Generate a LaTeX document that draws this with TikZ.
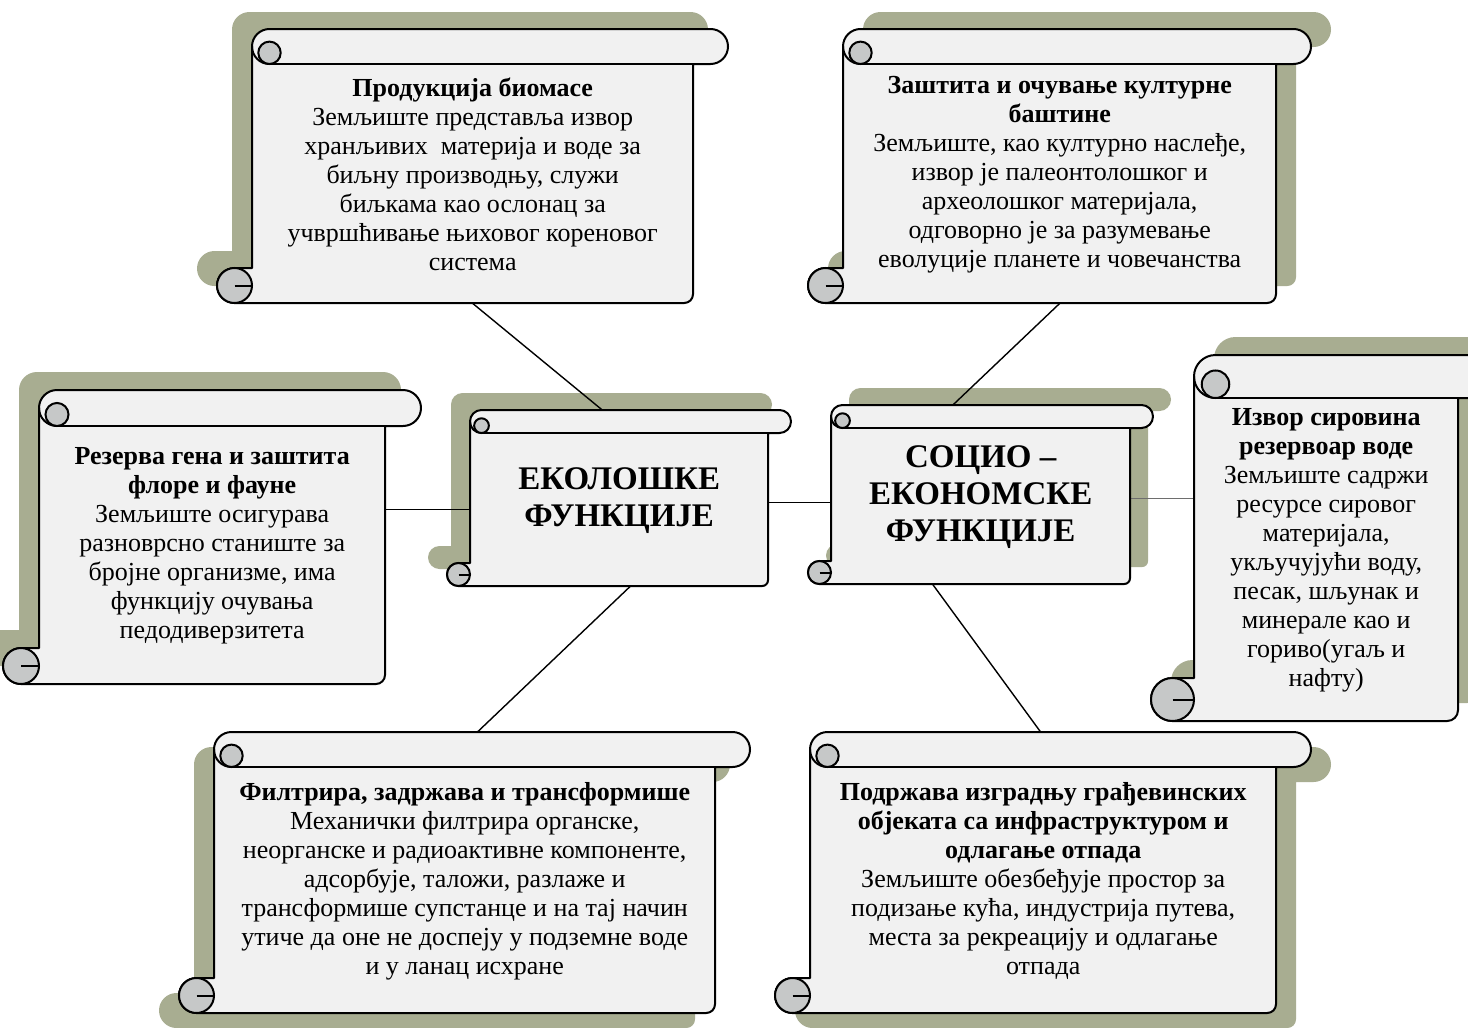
\documentclass[tikz,border=0pt]{standalone}
\usepackage{fontspec}
\setmainfont{Liberation Serif}

\definecolor{scrollfill}{HTML}{F1F1F1}
\definecolor{scrollshadow}{HTML}{A8AD91}
\definecolor{curlfill}{HTML}{C6C8C8}
\definecolor{linkgray}{HTML}{6E6E6E}

\pgfdeclarelayer{shadowlayer}
\pgfdeclarelayer{linelayer}
\pgfsetlayers{shadowlayer,linelayer,main}

% scroll: name, left, top, right, bottom, roll size, shadow dx, shadow dy, text
\newcommand{\drawscroll}[9]{%
  \pgfmathsetmacro{\sxa}{#2+0.5*#6}%
  \pgfmathsetmacro{\sxb}{#2+#6}%
  \pgfmathsetmacro{\sxc}{#2+1.5*#6}%
  \pgfmathsetmacro{\sxe}{#4-#6}%
  \pgfmathsetmacro{\sxf}{#4-0.5*#6}%
  \pgfmathsetmacro{\sya}{#3+0.5*#6}%
  \pgfmathsetmacro{\syb}{#3+0.68*#6}%
  \pgfmathsetmacro{\syc}{#3+#6}%
  \pgfmathsetmacro{\syd}{#5-#6}%
  \pgfmathsetmacro{\sye}{#5-0.5*#6}%
  \pgfmathsetmacro{\syf}{#5-0.25*#6}%
  \pgfmathsetmacro{\shr}{0.5*#6}%
  \pgfmathsetmacro{\sqr}{0.25*#6}%
  \pgfmathsetmacro{\scr}{0.32*#6}%
  \pgfmathsetmacro{\sbw}{#4-#2-2*#6}%
  \pgfmathsetmacro{\sbh}{#5-#3-#6}%
  \def\scrollpath{(\sxc,#3) -- (\sxf,#3) arc[start angle=-90,end angle=90,radius=\shr]
    -- (\sxe,\syc) -- (\sxe,\syf) arc[start angle=0,end angle=90,radius=\sqr]
    -- (\sxa,#5) arc[start angle=90,end angle=270,radius=\shr]
    -- (\sxb,\syd) -- (\sxb,\sya) arc[start angle=180,end angle=270,radius=\shr] -- cycle}%
  \begin{pgfonlayer}{shadowlayer}
    \fill[scrollshadow,shift={(#7,#8)}] \scrollpath;
  \end{pgfonlayer}
  \draw[scrollbody] \scrollpath;
  \draw[scrollline] (\sxc,\syc) -- (\sxe,\syc);
  \draw[scrollline] (\sxb,\sya) arc[start angle=180,end angle=90,radius=\shr];
  \draw[scrollline,fill=curlfill] (\sxc,\syb) circle[radius=\scr];
  \draw[scrollline,fill=curlfill] (\sxa,\sye) circle[radius=\shr];
  \draw[scrollline] (\sxa,\sye) -- (\sxb,\sye);
  \node[inner sep=0pt,minimum width=\sbw pt,minimum height=\sbh pt,anchor=north west] (#1) at (\sxb,\syc) {};
  \node[scrolltext] (#1-text) at ([yshift=9pt]#1.center) {#9};
}

\begin{document}
\begin{tikzpicture}[x=1pt,y=-1pt,
    scrollbody/.style={draw=black,line width=2pt,fill=scrollfill,line join=round},
    scrollline/.style={draw=black,line width=2pt},
    scrolltext/.style={align=center,inner sep=0pt,font=\fontsize{26}{29}\selectfont},
    link/.style={line width=1.4pt}]
  \useasboundingbox (0,0) rectangle (1468,1028);
  \begin{pgfonlayer}{shadowlayer}
    \fill[white] (0,0) rectangle (1468,1028);
  \end{pgfonlayer}

  % upper row
  \drawscroll{prod}{217}{29}{728}{303}{35}{-20}{-17}{%
    \textbf{Продукција биомасе}\\
    Земљиште представља извор\\
    хранљивих \ материја и воде за\\
    биљну производњу, служи\\
    биљкама као ослонац за\\
    учвршћивање њиховог кореновог\\
    система}
  \drawscroll{bastina}{808}{29}{1311}{303}{35}{20}{-17}{%
    \textbf{Заштита и очување културне}\\
    \textbf{баштине}\\
    Земљиште, као културно наслеђе,\\
    извор је палеонтолошког и\\
    археолошког материјала,\\
    одговорно је за разумевање\\
    еволуције планете и човечанства}

  % middle row
  \drawscroll{rezerva}{3}{390}{421}{684}{36}{-20}{-18}{%
    \textbf{Резерва гена и заштита}\\
    \textbf{флоре и фауне}\\
    Земљиште осигурава\\
    разноврсно станиште за\\
    бројне организме, има\\
    функцију очувања\\
    педодиверзитета}
  \begin{scope}[scrolltext/.append style={font=\fontsize{33}{37}\selectfont\bfseries}]
    \drawscroll{eko}{447}{410}{791}{586}{23}{-19}{-17}{%
      ЕКОЛОШКЕ\\
      ФУНКЦИЈЕ}
    \drawscroll{socio}{808}{405}{1153}{584}{23}{18}{-17}{%
      СОЦИО –\\
      ЕКОНОМСКЕ\\
      ФУНКЦИЈЕ}
  \end{scope}
  \drawscroll{sirovine}{1151}{355}{1501}{721}{43}{20}{-18}{%
    \textbf{Извор сировина}\\
    \textbf{резервоар воде}\\
    Земљиште садржи\\
    ресурсе сировог\\
    материјала,\\
    укључујући воду,\\
    песак, шљунак и\\
    минерале као и\\
    гориво(угаљ и\\
    нафту)}

  % lower row
  \drawscroll{filtr}{179}{732}{750}{1013}{35}{-20}{15}{%
    \textbf{Филтрира, задржава и трансформише}\\
    Механички филтрира органске,\\
    неорганске и радиоактивне компоненте,\\
    адсорбује, таложи, разлаже и\\
    трансформише супстанце и на тај начин\\
    утиче да оне не доспеју у подземне воде\\
    и у ланац исхране}
  \drawscroll{podr}{775}{732}{1311}{1013}{35}{20}{15}{%
    \textbf{Подржава изградњу грађевинских}\\
    \textbf{објеката са инфраструктуром и}\\
    \textbf{одлагање отпада}\\
    Земљиште обезбеђује простор за\\
    подизање кућа, индустрија путева,\\
    места за рекреацију и одлагање\\
    отпада}

  % connectors
  \coordinate (ekoR) at ([yshift=7pt]eko.east);
  \coordinate (socioR) at ([yshift=8pt]socio.east);
  \begin{pgfonlayer}{linelayer}
    \draw[link] (prod.south) -- ([xshift=11pt]eko.north);
    \draw[link] (bastina.south) -- ([xshift=-52pt]socio.north);
    \draw[link] (eko.west) -- (eko.west -| rezerva.east);
    \draw[link] (ekoR) -- (ekoR -| socio.west);
    \draw[link,draw=linkgray] (socioR) -- (socioR -| sirovine.west);
    \draw[link] ([xshift=11pt]eko.south) -- ([xshift=-24pt]filtr.north);
    \draw[link] ([xshift=-48pt]socio.south) -- ([xshift=23pt]podr.north);
  \end{pgfonlayer}
\end{tikzpicture}
\end{document}
